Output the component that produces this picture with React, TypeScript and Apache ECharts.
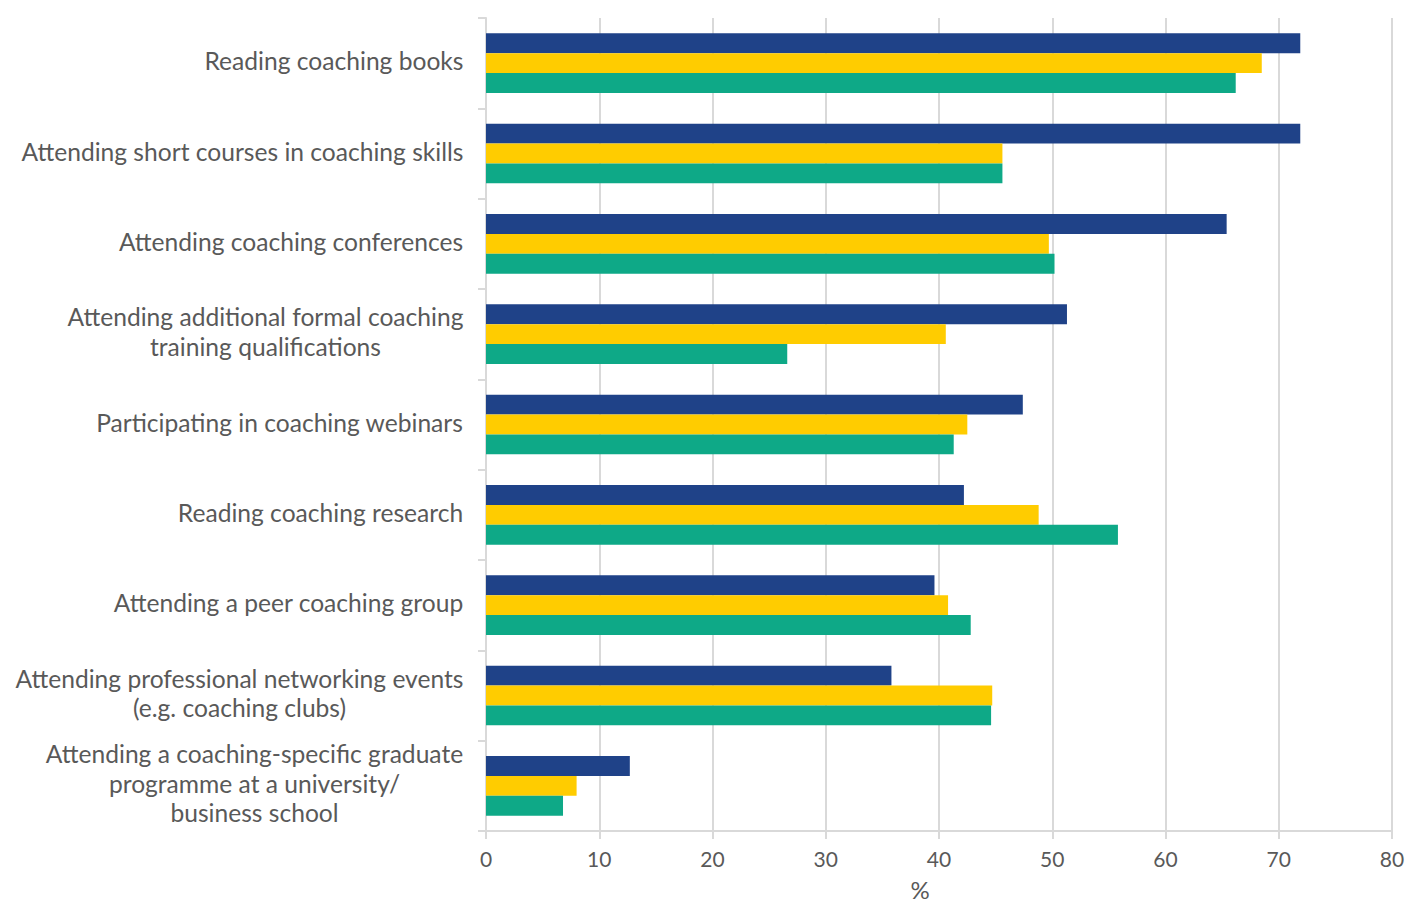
import React, { useEffect, useRef } from "react";
import * as echarts from "echarts";

const categories: string[] = [
  "Reading coaching books",
  "Attending short courses in coaching skills",
  "Attending coaching conferences",
  "Attending additional formal coaching\ntraining qualifications",
  "Participating in coaching webinars",
  "Reading coaching research",
  "Attending a peer coaching group",
  "Attending professional networking events\n(e.g. coaching clubs)",
  "Attending a coaching-specific graduate\nprogramme at a university/\nbusiness school",
];

const seriesNavy: number[] = [71.9, 71.9, 65.4, 51.3, 47.4, 42.2, 39.6, 35.8, 12.7];
const seriesYellow: number[] = [68.5, 45.6, 49.7, 40.6, 42.5, 48.8, 40.8, 44.7, 8.0];
const seriesGreen: number[] = [66.2, 45.6, 50.2, 26.6, 41.3, 55.8, 42.8, 44.6, 6.8];

const seriesNames: string[] = ["Series 1", "Series 2", "Series 3"];
const seriesColors: string[] = ["#1F4288", "#FFCC00", "#0EA987"];

const FONT_FAMILY = "Lato, 'Noto Sans', sans-serif";
const LABEL_SIZE = 24.6;

function measure(text: string): number {
  const c = document.createElement("canvas");
  const ctx = c.getContext("2d");
  if (!ctx) return text.length * 12;
  ctx.font = `${LABEL_SIZE}px ${FONT_FAMILY}`;
  return ctx.measureText(text).width;
}

export default function App() {
  const ref = useRef<HTMLDivElement>(null);

  useEffect(() => {
    if (!ref.current) return;
    const chart = echarts.init(ref.current, undefined, { renderer: "svg" });

    const rich: Record<string, any> = {};
    categories.forEach((cat, i) => {
      const w = Math.max(...cat.split("\n").map(measure));
      rich["c" + i] = {
        width: Math.ceil(w) + 1,
        align: "center",
        fontSize: LABEL_SIZE,
        fontFamily: FONT_FAMILY,
        color: "#595959",
        lineHeight: 29.5,
      };
    });

    const data = [seriesNavy, seriesYellow, seriesGreen];

    chart.setOption({
      animation: false,
      backgroundColor: "#ffffff",
      grid: { left: 486, right: 18, top: 18, bottom: 63, containLabel: false },
      xAxis: {
        type: "value",
        min: 0,
        max: 80,
        interval: 10,
        name: "%",
        nameLocation: "middle",
        nameGap: 46,
        nameTextStyle: {
          fontSize: 24,
          fontFamily: FONT_FAMILY,
          color: "#595959",
          padding: [0, 38, 0, 0],
        },
        axisLine: { show: true, lineStyle: { color: "#d9d9d9", width: 2 } },
        axisTick: { show: true, length: 8, lineStyle: { color: "#d9d9d9", width: 2 } },
        splitLine: { show: true, lineStyle: { color: "#d9d9d9", width: 2 } },
        axisLabel: {
          fontSize: 21,
          fontFamily: FONT_FAMILY,
          color: "#595959",
          margin: 17,
        },
      },
      yAxis: {
        type: "category",
        data: categories,
        inverse: true,
        axisLine: { show: true, lineStyle: { color: "#d9d9d9", width: 2 } },
        axisTick: { show: true, length: 8, lineStyle: { color: "#d9d9d9", width: 2 } },
        splitLine: { show: false },
        axisLabel: {
          margin: 22,
          align: "right",
          padding: [0, 0, 5, 0],
          formatter: (value: string, index: number) =>
            value
              .split("\n")
              .map((l) => `{c${index}|${l}}`)
              .join("\n"),
          rich,
        },
      },
      series: data.map((d, i) => ({
        type: "bar",
        name: seriesNames[i],
        data: d,
        barGap: "0%",
        barCategoryGap: "34%",
        itemStyle: { color: seriesColors[i] },
      })),
    });

    return () => chart.dispose();
  }, []);

  return (
    <div
      ref={ref}
      style={{ position: "fixed", left: 0, top: 0, width: 1410, height: 906 }}
    />
  );
}
